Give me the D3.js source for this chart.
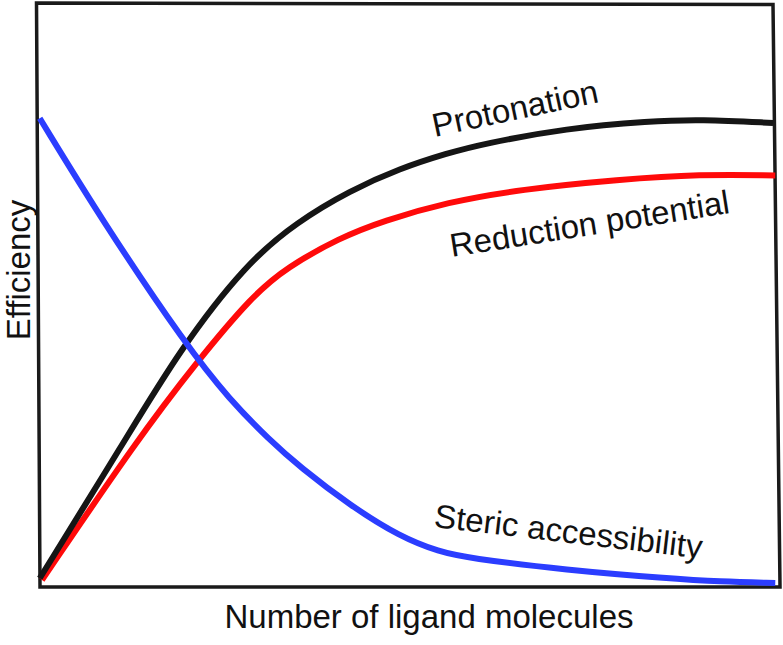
<!DOCTYPE html>
<html>
<head>
<meta charset="utf-8">
<script src="https://cdn.jsdelivr.net/npm/d3@7"></script>
<style>
  html, body { margin: 0; padding: 0; background: #fff; }
  svg { display: block; }
  text { font-family: "Liberation Sans", Arial, Helvetica, sans-serif; fill: #111; }
</style>
</head>
<body>
<svg id="chart" width="783" height="645"></svg>
<script>
// ---- Data (x: number of ligand molecules, arbitrary 0-100; y: efficiency, arbitrary 0-100) ----
const protonationX = [0.1, 11.7, 19.1, 28.2, 35.0, 42.2, 49.0, 55.4, 60.2, 71.6, 82.9, 89.7, 99.6];
const protonationY = [1.5, 25.2, 40.7, 55.6, 62.6, 68.0, 71.8, 74.4, 76.0, 78.7, 79.9, 80.2, 79.6];

const reductionX = [0.4, 13.3, 21.4, 29.0, 33.6, 40.8, 46.7, 55.4, 65.3, 78.8, 89.7, 99.9];
const reductionY = [1.2, 25.2, 38.6, 50.0, 54.8, 59.9, 62.8, 66.0, 68.2, 69.9, 70.8, 70.6];

const stericX = [0.1, 8.7, 20.1, 25.9, 31.3, 35.4, 42.2, 49.0, 54.4, 58.1, 71.6, 85.2, 92.4, 99.9];
const stericY = [80.4, 62.6, 41.2, 32.1, 25.2, 20.6, 14.0, 8.6, 6.0, 5.0, 2.9, 1.5, 0.9, 0.7];

const seriesNames = ["Protonation", "Reduction potential", "Steric accessibility"];
const xLabel = "Number of ligand molecules";
const yLabel = "Efficiency";

// ---- Build ----
const svg = d3.select("#chart");
const x = d3.scaleLinear().domain([0, 100]).range([39, 776]);
const y = d3.scaleLinear().domain([0, 100]).range([587, 4]);

const zip = (xs, ys) => xs.map((v, i) => [v, ys[i]]);
const series = [
  { name: seriesNames[0], pts: zip(protonationX, protonationY), color: "#151515",
    label: { x: 53.7, y: 77.2, angle: -12 } },
  { name: seriesNames[1], pts: zip(reductionX, reductionY), color: "#ff0a0a",
    label: { x: 56.0, y: 56.6, angle: -9 } },
  { name: seriesNames[2], pts: zip(stericX, stericY), color: "#2b3dff",
    label: { x: 53.5, y: 10.3, angle: 6.7 } }
];

// Frame (hand-drawn, slightly skewed box)
const frame = d3.path();
frame.moveTo(x(0) - 2.5, y(100) - 1);
frame.lineTo(x(100) - 3, y(100) + 0.5);
frame.lineTo(x(100) + 4, y(0));
frame.lineTo(x(0) + 1, y(0));
frame.closePath();
svg.append("path")
  .attr("d", frame.toString())
  .attr("fill", "none")
  .attr("stroke", "#1a1a1a")
  .attr("stroke-width", 3.5)
  .attr("stroke-linejoin", "miter");

const line = d3.line()
  .x(d => x(d[0]))
  .y(d => y(d[1]))
  .curve(d3.curveBasis);

// draw red, black, then blue on top (as in reference)
[series[1], series[0], series[2]].forEach(s => {
  svg.append("path")
    .datum(s.pts)
    .attr("d", line)
    .attr("fill", "none")
    .attr("stroke", s.color)
    .attr("stroke-width", 6)
    .attr("stroke-linecap", "butt")
    .attr("stroke-linejoin", "round");
});

// Curve labels
series.forEach(s => {
  const px = x(s.label.x), py = y(s.label.y);
  svg.append("text")
    .attr("x", px).attr("y", py)
    .attr("transform", `rotate(${s.label.angle},${px},${py})`)
    .attr("font-size", 33)
    .attr("text-anchor", "start")
    .text(s.name);
});

// Axis titles
svg.append("text")
  .attr("x", 429).attr("y", 628)
  .attr("text-anchor", "middle")
  .attr("font-size", 33)
  .text(xLabel);

svg.append("text")
  .attr("transform", "translate(30,270) rotate(-90)")
  .attr("text-anchor", "middle")
  .attr("font-size", 33)
  .text(yLabel);
</script>
</body>
</html>
